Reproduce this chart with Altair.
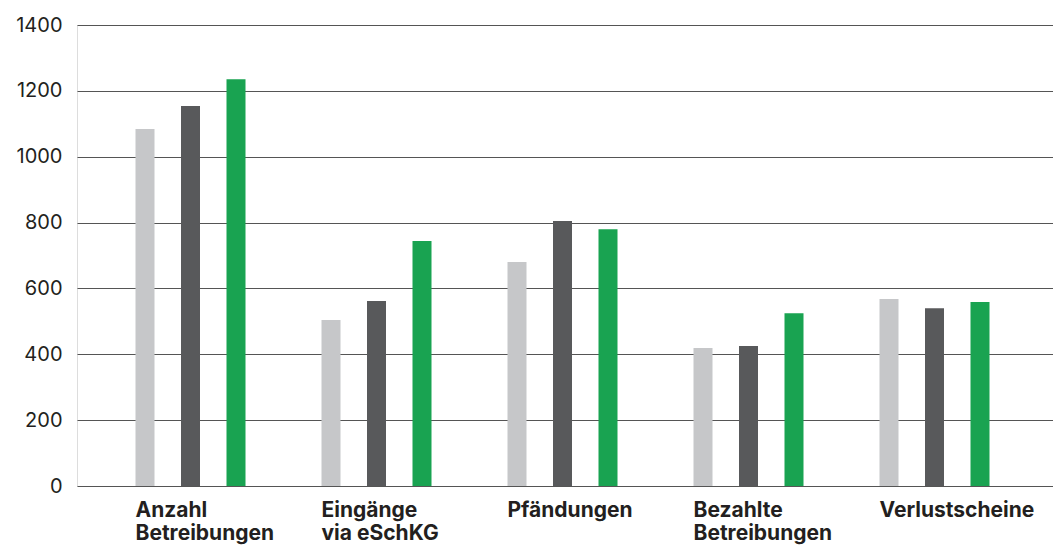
import altair as alt
import pandas as pd

categories = ["Anzahl\nBetreibungen", "Eingänge\nvia eSchKG", "Pfändungen",
              "Bezahlte\nBetreibungen", "Verlustscheine"]
series = ["2021", "2022", "2023"]
values_2021 = [1084, 504, 680, 419, 568]
values_2022 = [1154, 562, 805, 425, 540]
values_2023 = [1235, 744, 780, 525, 559]
colors = ["#c6c7c9", "#58595b", "#19a351"]
y_ticks = [0, 200, 400, 600, 800, 1000, 1200, 1400]

rows = []
for s, vals in zip(series, [values_2021, values_2022, values_2023]):
    for c, v in zip(categories, vals):
        rows.append({"Kategorie": c, "Jahr": s, "Wert": v})
df = pd.DataFrame(rows)

font = "Inter"
text_color = "#231f20"

chart = alt.Chart(df).mark_bar().encode(
    x=alt.X("Kategorie:N", sort=categories, title=None,
            scale=alt.Scale(paddingInner=0, paddingOuter=0.12366, align=0.4457),
            axis=alt.Axis(labelAngle=0, labelAlign="left", labelOffset=-55,
                          labelExpr="split(datum.label, '\\n')",
                          labelFont=font, labelFontSize=21, labelFontWeight="bold",
                          labelColor=text_color, labelLineHeight=23,
                          labelPadding=13, ticks=False, tickSize=0,
                          domain=False, grid=False)),
    xOffset=alt.XOffset("Jahr:N", sort=series,
                        scale=alt.Scale(paddingInner=0.5824, paddingOuter=0.8352)),
    y=alt.Y("Wert:Q", title=None,
            scale=alt.Scale(domain=[0, 1400], nice=False),
            axis=alt.Axis(values=y_ticks, format="d", labelFont=font, labelFontSize=20,
                          labelColor=text_color, labelPadding=15, ticks=False,
                          tickSize=0, domain=False, grid=True,
                          gridColor="#555555", gridWidth=1)),
    color=alt.Color("Jahr:N", sort=series, legend=None,
                    scale=alt.Scale(domain=series, range=colors)),
).properties(
    width=976, height=461,
    autosize=alt.AutoSizeParams(type="none"),
    padding={"left": 69, "top": 17, "right": 0, "bottom": 60},
).configure_view(stroke=None).configure(background="white")

chart.save("out.html", embed_options={"renderer": "svg", "actions": False})
